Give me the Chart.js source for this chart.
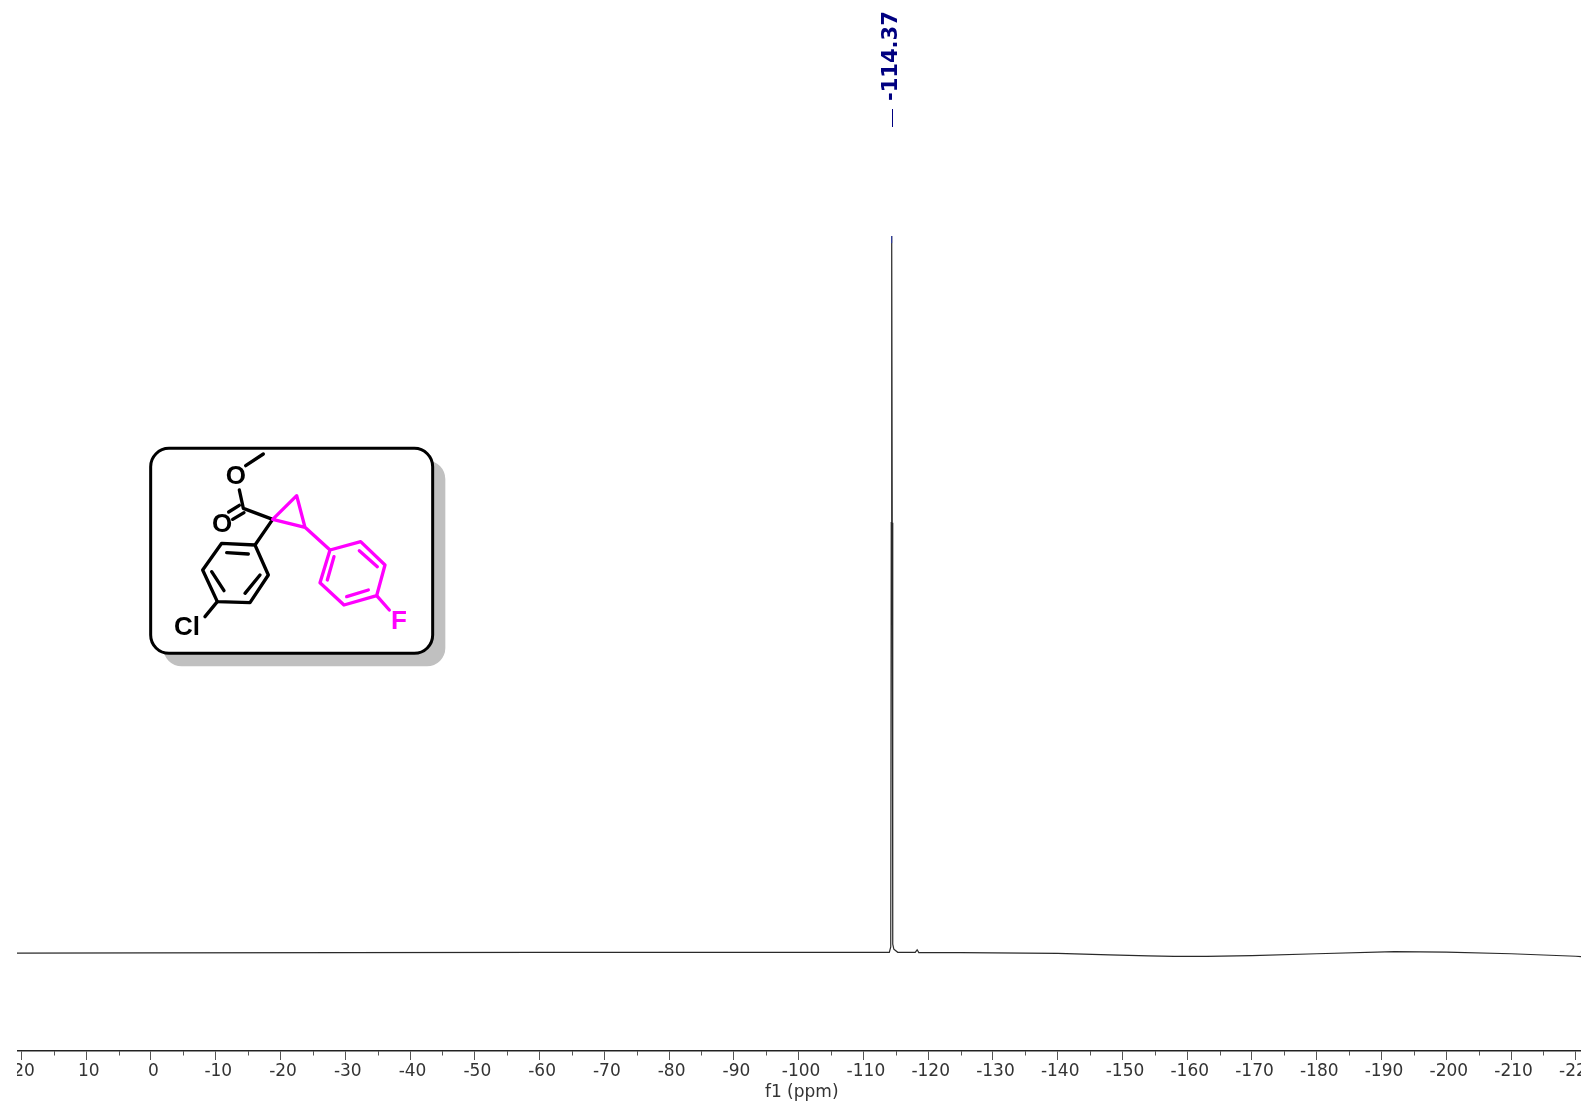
<!DOCTYPE html>
<html>
<head>
<meta charset="utf-8">
<title>19F NMR</title>
<script src="https://cdn.jsdelivr.net/npm/chart.js@4"></script>
<style>
  html, body { margin: 0; padding: 0; background: #fff; }
  body { position: relative; width: 1588px; height: 1105px; overflow: hidden; }
  #nmr { position: absolute; left: 17px; top: 0; }
  #mol { position: absolute; left: 130px; top: 430px; }
  #mol text { font-family: "Liberation Sans", Arial, sans-serif; font-weight: bold; }
</style>
</head>
<body>
<canvas id="nmr" width="1564" height="1105"></canvas>

<!-- structure inset, viewBox is 3x page px -->
<svg id="mol" width="330" height="250" viewBox="0 0 990 750">
  <rect x="100" y="92" width="846" height="617" rx="55" fill="#c0c0c0"/>
  <rect x="62" y="55" width="846" height="615" rx="55" fill="#fff" stroke="#000" stroke-width="9"/>
  <g stroke="#000" stroke-width="10" fill="none" stroke-linecap="round" stroke-linejoin="round">
    <path d="M400 72L347 107M328 180L340 235L428 268L375 345"/>
    <path d="M328 226L296 246M342 248L308 268"/>
    <path d="M375 345L275 340L218 420L262 515L360 518L415 435Z"/>
    <path d="M355 372L290 368M245 425L282 482M345 490L390 435M262 515L225 560"/>
  </g>
  <g stroke="#ff00ff" stroke-width="10" fill="none" stroke-linecap="round" stroke-linejoin="round">
    <path d="M428 268L500 197L525 292ZM525 292L600 360"/>
    <path d="M600 360L692 335L765 405L740 497L642 525L570 458Z"/>
    <path d="M688 362L742 410M715 480L650 500M592 450L612 380M740 497L778 540"/>
  </g>
  <text x="287" y="162" font-size="78" fill="#000">O</text>
  <text x="246" y="307" font-size="78" fill="#000">O</text>
  <text x="132" y="614" font-size="78" fill="#000">Cl</text>
  <text x="783" y="597" font-size="78" fill="#ff00ff">F</text>
</svg>

<script>
const ppm = [20.7, 0, -30, -60, -90, -110, -114.0, -114.22, -114.3, -114.37, -114.45, -114.53, -114.7, -115.3,
  -118.0, -118.3, -118.55, -125, -140, -148, -154, -158, -163, -170, -180, -192, -200, -210, -220, -220.8];
const intensity = [-0.05, -0.03, 0, 0.03, 0.05, 0.05, 0.05, 0.8, 60, 100, 60, 1.2, 0.5, 0.05,
  0.03, 0.4, 0.02, 0, -0.1, -0.3, -0.45, -0.52, -0.52, -0.4, -0.15, 0.15, 0.08, -0.15, -0.5, -0.55];

const majorTicks = [20, 10, 0, -10, -20, -30, -40, -50, -60, -70, -80, -90, -100, -110, -120,
  -130, -140, -150, -160, -170, -180, -190, -200, -210, -220];
const minorTicks = [15, 5, -5, -15, -25, -35, -45, -55, -65, -75, -85, -95, -105, -115, -125,
  -135, -145, -155, -165, -175, -185, -195, -205, -215];

const peakLabels = [-114.37];

const annotate = {
  id: 'annotate',
  afterDraw(chart) {
    const { ctx, chartArea, scales: { x, y } } = chart;
    ctx.save();
    // short minor ticks
    ctx.strokeStyle = '#555';
    ctx.lineWidth = 1;
    minorTicks.forEach(v => {
      const px = Math.round(x.getPixelForValue(v)) + 0.5;
      ctx.beginPath();
      ctx.moveTo(px, chartArea.bottom);
      ctx.lineTo(px, chartArea.bottom + 4.5);
      ctx.stroke();
    });
    // peak pick label and its connector
    peakLabels.forEach(v => {
      const raw = x.getPixelForValue(v);
      const px = Math.round(raw) + 0.5;
      ctx.strokeStyle = '#000080';
      ctx.beginPath();
      ctx.moveTo(px, 109);
      ctx.lineTo(px, 127);
      ctx.stroke();
      // top of the peak shows blue
      ctx.strokeStyle = '#2f3fb0';
      ctx.beginPath();
      ctx.moveTo(raw, y.getPixelForValue(100));
      ctx.lineTo(raw, y.getPixelForValue(99));
      ctx.stroke();
      ctx.save();
      ctx.translate(px - 1, 101);
      ctx.rotate(-Math.PI / 2);
      ctx.fillStyle = '#000080';
      ctx.font = 'bold 21px "DejaVu Sans"';
      ctx.textAlign = 'left';
      ctx.textBaseline = 'middle';
      ctx.fillText(v.toFixed(2), 0, 0);
      ctx.restore();
    });
    ctx.restore();
  }
};

new Chart(document.getElementById('nmr'), {
  type: 'line',
  data: {
    labels: ppm,
    datasets: [{
      data: ppm.map((p, i) => ({ x: p, y: intensity[i] })),
      borderColor: '#2a2a2a',
      borderWidth: 1.2,
      tension: 0,
      fill: false,
      pointRadius: 0
    }]
  },
  options: {
    responsive: false,
    animation: false,
    parsing: false,
    layout: { padding: 0 },
    plugins: { legend: { display: false }, tooltip: { enabled: false } },
    scales: {
      x: {
        type: 'linear',
        reverse: true,
        min: -220.8,
        max: 20.69,
        afterBuildTicks: s => { s.ticks = majorTicks.map(v => ({ value: v })); },
        afterFit: s => { s.paddingLeft = 0; s.paddingRight = 0; s.height = 54; },
        border: { display: true, color: '#222', width: 1.5 },
        grid: { drawOnChartArea: false, tickLength: 9, tickColor: '#555', tickWidth: 1 },
        ticks: {
          autoSkip: false,
          maxRotation: 0,
          padding: 1,
          labelOffset: 2.5,
          color: '#333',
          font: { family: '"DejaVu Sans"', size: 17 }
        },
        title: {
          display: true,
          text: ' f1 (ppm)',
          color: '#333',
          font: { family: '"DejaVu Sans"', size: 17 },
          padding: { top: 0, bottom: 2 }
        }
      },
      y: {
        display: false,
        min: -13.72,
        max: 132.93
      }
    }
  },
  plugins: [annotate]
});
</script>
</body>
</html>
